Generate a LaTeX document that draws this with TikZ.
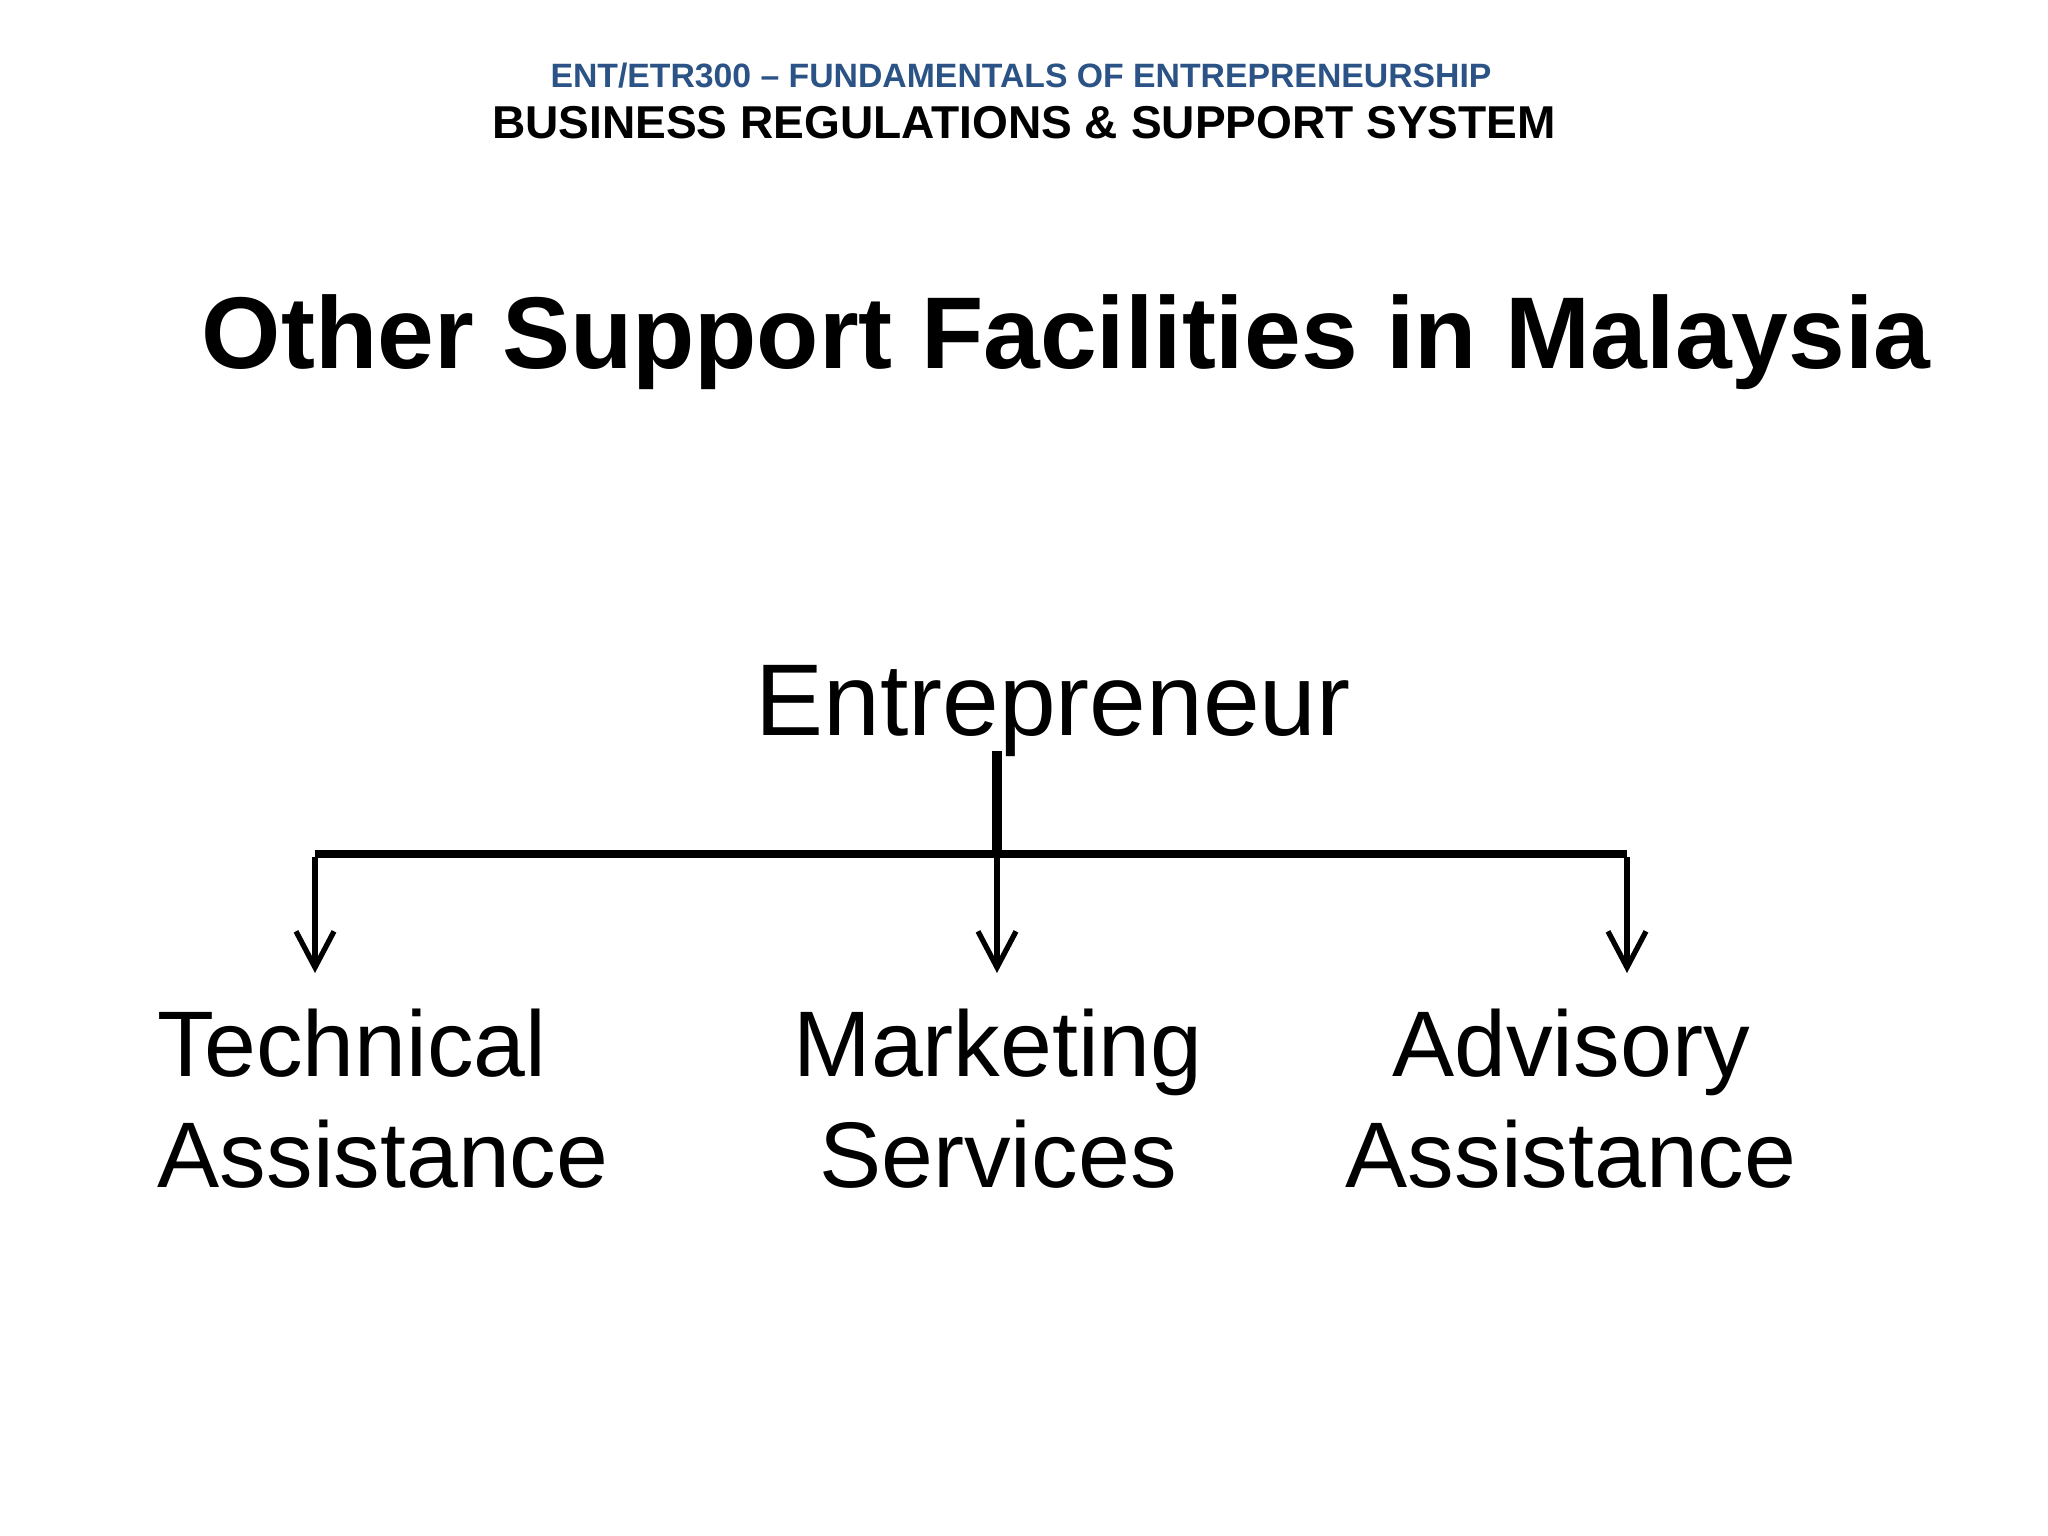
\documentclass[tikz,border=0pt]{standalone}
\usepackage{fontspec}
\setmainfont{Liberation Sans}
\usetikzlibrary{arrows.meta}
\definecolor{hdrblue}{HTML}{2B5386}
\tikzset{
  txt/.style={inner sep=0pt, anchor=base},
  child/.style={txt, font=\fontsize{26.5pt}{31.3pt}\selectfont},
  conn/.style={line width=1.9pt, line join=miter},
  stem/.style={line width=3.1pt},
  tip/.style={-{Straight Barb[length=0.36cm, width=0.38cm, line width=1.5pt]}}
}
\begin{document}
\begin{tikzpicture}[x=0.01cm,y=-0.01cm]
\useasboundingbox[fill=white] (0,0) rectangle (2048,1536);
% headers
\node[txt, text=hdrblue, font=\bfseries\fontsize{9.6pt}{11pt}\selectfont] (hdr1) at (1021,87) {ENT/ETR300 – FUNDAMENTALS OF ENTREPRENEURSHIP};
\node[txt, font=\bfseries\fontsize{13.1pt}{15pt}\selectfont] (hdr2) at (1024,138) {BUSINESS REGULATIONS \& SUPPORT SYSTEM};
% title
\node[txt, font=\bfseries\fontsize{29pt}{35pt}\selectfont] (title) at (1066,368) {Other Support Facilities in Malaysia};
% root
\node[txt, font=\fontsize{29pt}{35pt}\selectfont] (ent) at (1053,735) {Entrepreneur};
% children
\node[child, anchor=base west, align=left] (tech) at (157,1187) {Technical\\Assistance};
\node[child, align=center] (mkt) at (998,1187) {Marketing\\Services};
\node[child, align=center] (adv) at (1571,1187) {Advisory\\Assistance};
% connectors
\coordinate (stemtop) at (997,751);
\coordinate (junc) at (997,854);
\coordinate (cornL) at (315,854);
\coordinate (cornR) at (1627,854);
\coordinate (tipL) at (315,973);
\coordinate (tipM) at (997,973);
\coordinate (tipR) at (1627,973);
\draw[stem] (stemtop) -- (junc);
\draw[conn, line width=2.3pt] (cornL) -- (cornR);
\draw[conn, tip] ([yshift=-0.03cm]cornL) -- (tipL);
\draw[conn, tip] (junc) -- (tipM);
\draw[conn, tip] ([yshift=-0.03cm]cornR) -- (tipR);
\end{tikzpicture}
\end{document}
